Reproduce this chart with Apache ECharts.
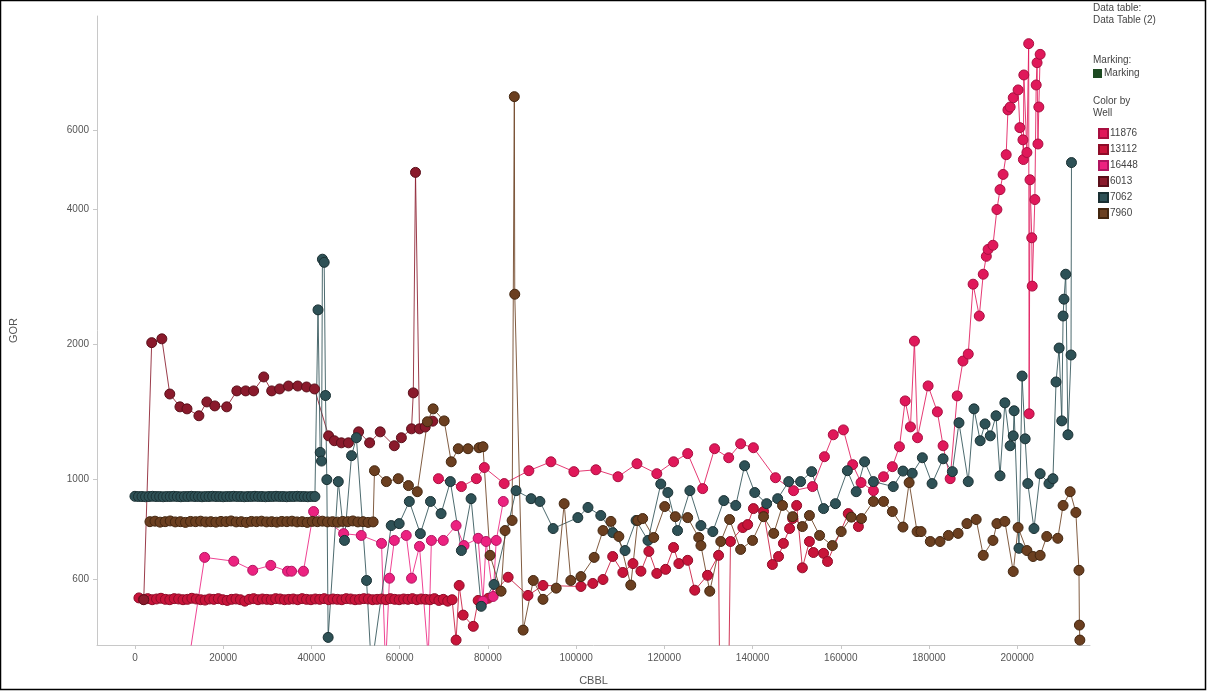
<!DOCTYPE html>
<html>
<head>
<meta charset="utf-8">
<title>GOR vs CBBL</title>
<script src="https://cdn.jsdelivr.net/npm/echarts@6/dist/echarts.min.js"></script>
<style>
  html, body { margin: 0; padding: 0; background: #fff; }
  #chart { width: 1207px; height: 691px; }
</style>
</head>
<body>
<div id="chart"></div>
<script>
// tick labels
var xTicks = [0, 20000, 40000, 60000, 80000, 100000, 120000, 140000, 160000, 180000, 200000];
var yTicks = [600, 1000, 2000, 4000, 6000];
var wells = ['11876', '13112', '16448', '6013', '7062', '7960'];

// [CBBL, GOR] per well
var well11876 = [
  [68800,1005],[74000,965],[77400,1005],[79200,1064],[83700,980],[89300,1047],[94300,1096],[99500,1042],
  [104500,1052],[109500,1015],[113800,1085],[118300,1031],[122100,1096],[125300,1143],[128700,955],[131400,1172],
  [134600,1119],[137300,1202],[140200,1178],[145200,1010],[149300,945],[153600,965],[156300,1125],[158300,1259],
  [160600,1291],[162700,1080],[164600,985],[167400,945],[169700,1015],[171700,1069],[173300,1184],[174600,1498],
  [175800,1311],[176700,2036],[177400,1240],[179800,1618],[181900,1416],[183200,1190],[184800,1005],[186400,1537],
  [187700,1838],[188900,1905],[190000,2727],[191400,2316],[192300,2870],[193000,3146],[193400,3260],[194500,3330],
  [195400,4000],[196100,4430],[196800,4790],[197500,5300],[197900,6670],[198400,6770],[199100,7100],[200200,7390],
  [200600,6090],[201300,5720],[201400,5170],[201500,7980],[202200,5360],[202600,9370],[202700,1402],[202900,4660],
  [203300,3460],[203400,2700],[204000,4210],[204300,7580],[204500,8500],[204700,5600],[204900,6770],[205200,8870]
];

var well13112 = [
  [900,545],[1900,541],[2900,543],[3900,540],[4900,542],[5900,544],[6900,541],[7900,540],[8900,543],[9900,542],
  [10900,540],[11900,541],[12900,544],[13900,542],[14900,540],[15900,539],[16900,542],[17900,541],[18900,543],[19900,540],
  [20900,538],[21900,541],[22900,542],[23900,540],[24900,536],[25900,541],[26900,543],[27900,540],[28900,542],[29900,541],
  [30900,540],[31900,543],[32900,542],[33900,540],[34900,541],[35900,542],[36900,540],[37900,543],[38900,541],[39900,540],
  [40900,542],[41900,541],[42900,543],[43900,540],[44900,542],[45900,541],[46900,540],[47900,543],[48900,542],[49900,540],
  [50900,541],[51900,543],[52900,542],[53900,540],[54900,541],[55900,542],[56900,540],[57900,543],[58900,541],[59900,540],
  [60900,542],[61900,541],[62900,543],[63900,540],[64900,542],[65900,541],[66900,540],[67900,543],[68900,538],[69900,541],
  [70900,536],[71900,540],
  [72800,439],[73500,581],[74400,499],[76700,471],[77800,538],[80100,544],[84600,606],[89100,552],[92500,581],
  [101100,578],[103800,587],[106100,599],[108300,674],[110600,621],[112900,650],[114700,625],[116500,692],[118300,618],
  [120300,631],[122100,706],[123300,650],[125300,661],[126900,567],[129800,612],[132300,678],[132700,250],[134400,250],
  [135000,728],[137800,782],[138900,794],[140200,862],[142500,849],[144500,647],[145900,674],[147000,721],[148400,778],
  [149100,819],[150000,876],[151300,636],[152900,728],[153800,688],[156100,685],[157000,657],[161700,840],[164000,786]
];

var well16448 = [
  [11000,330],[15800,671],[22400,658],[26700,628],[30800,644],[34600,625],[35500,625],[38200,625],[40500,849],
  [47300,758],[51300,751],[55900,721],[56800,380],[57700,603],[58800,732],[61500,751],[62700,603],[64500,710],
  [66500,400],[67200,732],[69900,732],[72800,790],[74600,713],[77800,740],[78900,536],[79600,728],[81200,549],
  [81900,732],[83500,894]
];

var well6013 = [
  [2000,540],[3800,2020],[6100,2060],[7900,1552],[10200,1453],[11800,1438],[14500,1388],[16300,1490],[18100,1460],
  [20800,1453],[23100,1577],[25100,1577],[26900,1577],[29200,1694],[31000,1577],[32800,1593],[34800,1617],[36900,1617],
  [38900,1609],[40700,1593],[43900,1252],[45200,1221],[46800,1208],[48400,1208],[50700,1278],[53200,1208],[55600,1278],
  [58800,1190],[60400,1240],[62700,1298],[63100,1561],[63600,4840],[64500,1298],[65800,1310],[67500,1350]
];

var well7062 = [
  [0,918],[800,917],[1600,917],[2400,916],[3200,917],[4000,918],[4800,917],[5600,917],[6400,916],[7200,917],
  [8000,917],[8800,918],[9600,917],[10400,916],[11200,917],[12000,917],[12800,918],[13600,917],[14400,917],[15200,916],
  [16000,917],[16800,917],[17600,918],[18400,917],[19200,917],[20000,916],[20800,917],[21600,917],[22400,918],[23200,917],
  [24000,917],[24800,916],[25600,917],[26400,917],[27200,918],[28000,917],[28800,917],[29600,916],[30400,917],[31200,917],
  [32000,918],[32800,917],[33600,917],[34400,916],[35200,917],[36000,917],[36800,918],[37600,917],[38400,917],[39200,916],
  [40000,917],[40800,917],
  [41500,2390],[42000,1150],[42300,1100],[42500,3100],[42900,3050],[43200,1540],[43500,1000],[43800,445],[46100,990],
  [47500,732],[49100,1131],[50200,1240],[52500,596],[53600,380],[58100,790],[59900,798],[62200,894],[64700,758],
  [67000,894],[69400,840],[71500,990],[74000,695],[76200,907],[78500,522],[81400,584],[86400,945],[89800,907],
  [91800,894],[94800,778],[100400,823],[102700,867],[105600,832],[108300,762],[111100,695],[113600,811],[116300,732],
  [119200,978],[120800,936],[123000,770],[125800,945],[128300,790],[131000,766],[133500,898],[136200,876],[138200,1074],
  [140500,936],[143200,884],[145700,907],[148200,990],[150900,990],[153400,1042],[156100,862],[158800,884],[161500,1047],
  [163500,940],[165400,1096],[167400,990],[171900,965],[174100,1045],[176200,1033],[178500,1119],[180700,980],[183200,1113],
  [185300,1042],[186800,1339],[188900,990],[190200,1438],[191600,1221],[192700,1331],[193900,1252],[195200,1388],[196100,1020],
  [197200,1483],[198400,1190],[199100,1252],[199300,1424],[200400,703],[201100,1702],[201800,1233],[202400,980],[203800,778],
  [205200,1031],[207200,980],[208100,1005],[208800,1651],[209500,1965],[210100,1352],[210400,2316],[210600,2525],[211000,2870],
  [211500,1259],[212200,1896],[212300,5090]
];

var well7960 = [
  [3400,806],[4550,808],[5700,804],[6850,806],[8000,809],[9150,805],[10300,806],[11450,803],[12600,807],[13750,806],
  [14900,808],[16050,805],[17200,806],[18350,804],[19500,807],[20650,806],[21800,809],[22950,805],[24100,806],[25250,803],
  [26400,807],[27550,806],[28700,808],[29850,805],[31000,806],[32150,804],[33300,807],[34450,806],[35600,808],[36750,805],
  [37900,806],[39050,803],[40200,807],[41350,806],[42500,808],[43650,805],[44800,806],[45950,804],[47100,807],[48250,806],
  [49400,809],[50550,805],[51700,806],[52850,803],[54000,805],
  [54300,1047],[57000,990],[59700,1005],[62000,970],[64000,940],[66300,1346],[67600,1438],[70100,1352],[71700,1096],
  [73300,1172],[75500,1172],[78000,1178],[78900,1184],[80500,678],[83000,564],[83900,770],[85500,811],[86000,7140],
  [86100,2590],[88000,462],[90300,596],[92500,541],[95500,573],[97300,884],[98800,596],[101100,608],[104100,671],
  [106100,770],[107900,807],[109700,747],[112400,582],[114000,811],[115100,819],[117600,743],[120100,871],[122500,827],
  [125300,823],[127800,743],[128300,713],[130300,564],[132800,728],[134800,815],[137300,699],[140000,732],[142500,827],
  [144800,759],[146800,876],[149100,827],[151300,786],[152900,832],[155200,751],[158100,713],[160100,766],[162400,825],
  [164700,819],[167400,894],[169700,894],[171700,849],[174100,784],[175500,985],[177300,766],[178200,766],[180300,728],
  [182500,728],[184400,751],[186600,759],[188600,798],[190700,815],[192300,678],[194500,732],[195400,798],[197200,807],
  [199100,624],[200200,782],[202200,695],[203600,674],[205200,678],[206700,747],[209200,740],[210400,876],[212000,940],
  [213300,845],[214000,628],[214100,474],[214200,439]
];

var wellData = [well11876, well13112, well16448, well6013, well7062, well7960];
var wellColors = ['#e0185a', '#c8143a', '#ec2280', '#8a1a2c', '#2e5156', '#6b3f20'];
var wellBorders = ['#a80f40', '#8e0c28', '#b01560', '#5a0f1a', '#1a3033', '#43260f'];

var chart = echarts.init(document.getElementById('chart'));

var series = [];
for (var i = 0; i < wells.length; i++) {
  series.push({
    name: wells[i],
    type: 'line',
    data: wellData[i],
    symbol: 'circle',
    symbolSize: 10,
    showAllSymbol: true,
    clip: true,
    itemStyle: { color: wellColors[i], borderColor: wellBorders[i], borderWidth: 1 },
    lineStyle: { color: wellColors[i], width: 1, opacity: 0.85 },
    emphasis: { disabled: true }
  });
}

var txt = { fontFamily: 'Liberation Sans, Arial, sans-serif', fontSize: 10, fill: '#444' };

var option = {
  animation: false,
  textStyle: { fontFamily: 'Liberation Sans, Arial, sans-serif' },
  grid: { left: 95, right: 117, top: 16, bottom: 44 },
  xAxis: {
    type: 'value',
    min: -8600,
    max: 216500,
    name: 'CBBL',
    nameLocation: 'middle',
    nameGap: 30,
    nameTextStyle: { color: '#555', fontSize: 11 },
    axisLine: { show: true, onZero: false, lineStyle: { color: '#c8c8c8' } },
    axisTick: { show: true, length: 4, lineStyle: { color: '#c8c8c8' }, customValues: xTicks },
    axisLabel: { color: '#555', fontSize: 10, margin: 8, customValues: xTicks,
      formatter: function (v) { return String(Math.round(v)); } },
    splitLine: { show: false }
  },
  yAxis: {
    type: 'log',
    logBase: 10,
    min: 428,
    max: 10800,
    name: 'GOR',
    nameLocation: 'middle',
    nameGap: 78,
    nameTextStyle: { color: '#555', fontSize: 11 },
    axisLine: { show: true, onZero: false, lineStyle: { color: '#c8c8c8' } },
    axisTick: { show: true, length: 4, lineStyle: { color: '#c8c8c8' }, customValues: yTicks },
    axisLabel: { color: '#555', fontSize: 10, margin: 8, customValues: yTicks,
      formatter: function (v) { return String(Math.round(v < 100 ? Math.pow(10, v) : v)); } },
    splitLine: { show: false }
  },
  legend: {
    data: wells,
    orient: 'vertical',
    left: 1093,
    top: 123,
    icon: 'rect',
    itemWidth: 9,
    itemHeight: 9,
    itemGap: 5,
    selectedMode: false,
    textStyle: { color: '#444', fontSize: 10, padding: [0, 0, 0, -3] }
  },
  graphic: [
    { type: 'rect', shape: { x: 0.5, y: 0.5, width: 1205, height: 689 }, style: { fill: 'none', stroke: '#000', lineWidth: 1.5 } },
    { type: 'text', left: 1093, top: 3, style: Object.assign({ text: 'Data table:' }, txt) },
    { type: 'text', left: 1093, top: 15, style: Object.assign({ text: 'Data Table (2)' }, txt) },
    { type: 'text', left: 1093, top: 55, style: Object.assign({ text: 'Marking:' }, txt) },
    { type: 'rect', left: 1093, top: 69, shape: { width: 9, height: 9 }, style: { fill: '#1d4a22' } },
    { type: 'text', left: 1104, top: 68, style: Object.assign({ text: 'Marking' }, txt) },
    { type: 'text', left: 1093, top: 96, style: Object.assign({ text: 'Color by' }, txt) },
    { type: 'text', left: 1093, top: 108, style: Object.assign({ text: 'Well' }, txt) }
  ],
  series: series
};

chart.setOption(option);
</script>
</body>
</html>
